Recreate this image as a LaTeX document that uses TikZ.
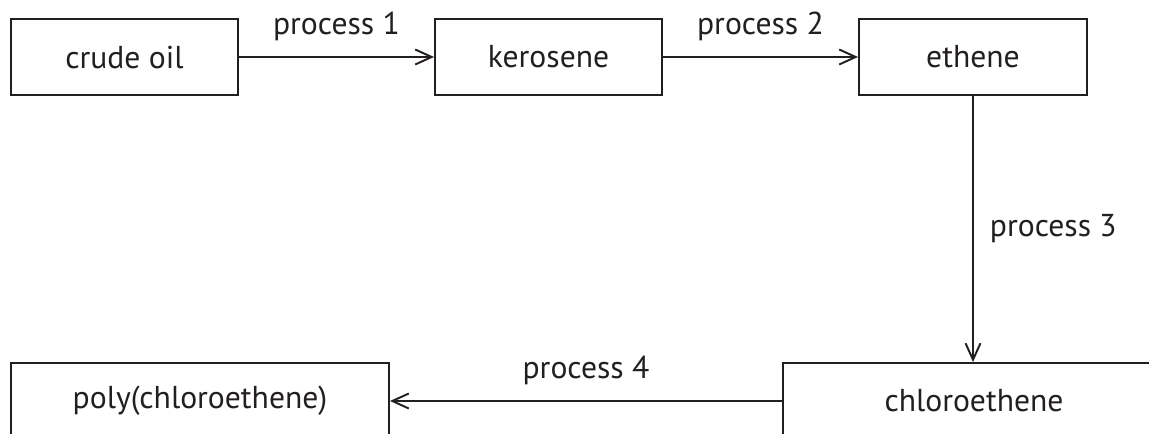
\documentclass[tikz,border=0pt]{standalone}
\usepackage{fontspec}
\setmainfont{PT Sans}
\usepackage{xcolor}
\usetikzlibrary{positioning,arrows.meta}
\definecolor{inkgray}{HTML}{231F20}

\begin{document}
\begin{tikzpicture}[
    stage/.style={draw=inkgray, line width=1.1pt, rectangle, minimum height=1.52cm, text=inkgray, font=\fontsize{18}{22}\selectfont},
    flow/.style={draw=inkgray, line width=1.1pt, -{Straight Barb[length=0.33cm, width=0.3cm]}},
    proc/.style={text=inkgray, inner sep=0pt, font=\fontsize{18}{22}\selectfont}
]
    \clip (0, 0) rectangle (22.98, 8.66);
    \fill[white] (0, 0) rectangle (22.98, 8.66);

    % Top row
    \node[stage, minimum width=4.54cm] (crude) at (2.49, 7.52) {crude oil};
    \node[stage, minimum width=4.54cm] (kero) at (10.97, 7.52) {kerosene};
    \node[stage, minimum width=4.56cm] (ethene) at (19.46, 7.52) {ethene};

    % Bottom row
    \node[stage, minimum width=7.64cm] (chloro) at (19.48, 0.64) {chloroethene};
    \node[stage, minimum width=7.56cm] (poly) at (4.00, 0.64) {poly(chloroethene)};

    % Connections
    \draw[flow] (crude) -- node[proc, midway, above=0.3cm] (p1) {process 1} (kero);
    \draw[flow] (kero) -- node[proc, midway, above=0.3cm] (p2) {process 2} (ethene);
    \draw[flow] (ethene.south) -- node[proc, midway, right=0.32cm] (p3) {process 3} (ethene.south |- chloro.north);
    \draw[flow] (chloro) -- node[proc, midway, above=0.3cm] (p4) {process 4} (poly);
\end{tikzpicture}
\end{document}
